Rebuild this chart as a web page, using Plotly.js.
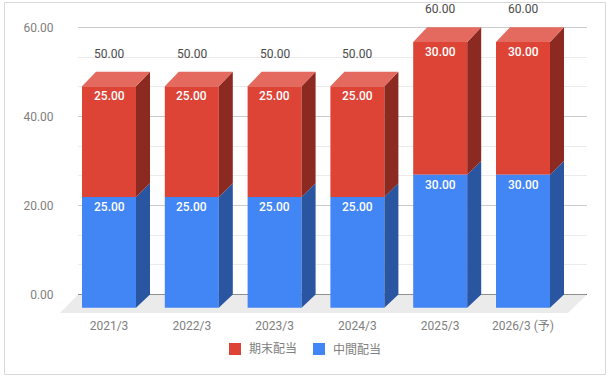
<!DOCTYPE html>
<html>
<head>
<meta charset="utf-8">
<script src="https://cdn.plot.ly/plotly-3.0.1.min.js"></script>
<style>html,body{margin:0;padding:0;background:#fff}#c{width:611px;height:378px}</style>
</head>
<body>
<div id="c"></div>
<script>
const categories = ['2021/3','2022/3','2023/3','2024/3','2025/3','2026/3 (予)'];
const interim = [25,25,25,25,30,30];
const yearEnd = [25,25,25,25,30,30];
const totals = [50,50,50,50,60,60];
const majorTicks = [0,20,40,60];
const minorTicks = [20/3,40/3,80/3,100/3,140/3,160/3];
const seriesNames = {end:'期末配当', mid:'中間配当'};

const W=611,H=378;
const plotTop=3, plotBottom=313, gridLeft=78, floorLeft=60, plotRight=587;
const pxPerUnit=4.453, zeroPx=294.5, frontZeroPx=307.7, frontPxPerUnit=4.428;
const pxPerCat=82.8, firstCatPx=109, barPx=54, depthPx=14;

const yLow=-(plotBottom-zeroPx)/pxPerUnit, yHigh=(zeroPx-plotTop)/pxPerUnit;
const xAt=p=>(p-firstCatPx)/pxPerCat;
const dx=depthPx/pxPerCat, bw=barPx/pxPerCat;
const k=frontPxPerUnit/pxPerUnit, d=(frontZeroPx-zeroPx)/pxPerUnit;
const front=v=>v*k-d;
const FONT="Roboto, 'Noto Sans CJK JP', sans-serif";
const RED='#dd4436',BLUE='#4285f4',RED_SIDE='#8c2a22',BLUE_SIDE='#2a55a0',RED_TOP='#e46a5f';
const AXIS_TEXT='#808080';

function poly(list){const xs=[],ys=[];list.forEach(p=>{p.forEach(q=>{xs.push(q[0]);ys.push(q[1]);});xs.push(p[0][0]);ys.push(p[0][1]);xs.push(null);ys.push(null);});return [xs,ys];}
const idx=categories.map((_,i)=>i);
const sideMid=idx.map(i=>{const r=i+bw/2;return [[r,front(0)],[r+dx,0],[r+dx,interim[i]],[r,front(interim[i])]];});
const sideEnd=idx.map(i=>{const r=i+bw/2,a=interim[i],b=a+yearEnd[i];return [[r,front(a)],[r+dx,a],[r+dx,b],[r,front(b)]];});
const topEnd=idx.map(i=>{const l=i-bw/2,r=i+bw/2,t=totals[i];return [[l,front(t)],[r,front(t)],[r+dx,t],[l+dx,t]];});
function face(list,color){const [x,y]=poly(list);return {type:'scatter',mode:'lines',x,y,xaxis:'x2',yaxis:'y2',fill:'toself',fillcolor:color,line:{width:0,color},hoverinfo:'skip',showlegend:false};}

const traces=[
 {type:'scatter',mode:'lines',x:[0],y:[0],xaxis:'x',yaxis:'y',line:{width:0},hoverinfo:'skip',showlegend:false},
 {type:'bar',name:seriesNames.end,x:idx,y:yearEnd.map(v=>v*k),base:idx.map(i=>front(interim[i])),width:bw,marker:{color:RED,line:{width:0}},xaxis:'x2',yaxis:'y2',hoverinfo:'skip',showlegend:false},
 {type:'bar',name:seriesNames.mid,x:idx,y:interim.map(v=>v*k),base:idx.map(()=>front(0)),width:bw,marker:{color:BLUE,line:{width:0}},xaxis:'x2',yaxis:'y2',hoverinfo:'skip',showlegend:false},
 face(sideMid,BLUE_SIDE),face(sideEnd,RED_SIDE),face(topEnd,RED_TOP)
];

const annotations=[];
function label(x,y,text,color,shift,weight){annotations.push({xref:'x2',yref:'y2',x,y,text,showarrow:false,yanchor:'middle',xanchor:'center',yshift:shift,font:{family:FONT,size:12,color,weight}});}
idx.forEach(i=>{
 label(i,front(totals[i]),yearEnd[i].toFixed(2),'#ffffff',-9.7,500);
 label(i,front(interim[i]),interim[i].toFixed(2),'#ffffff',-9.7,500);
 label(i,totals[i],totals[i].toFixed(2),'#4a4a4a',18,400);
});

// legend row
const legendRow=[{name:seriesNames.end,color:RED,px:229},{name:seriesNames.mid,color:BLUE,px:313}];
const legendShapes=legendRow.map(e=>({type:'rect',xref:'paper',yref:'paper',x0:e.px/W,x1:(e.px+12)/W,y0:1-355/H,y1:1-343/H,fillcolor:e.color,line:{width:0}}));
legendRow.forEach(e=>annotations.push({xref:'paper',yref:'paper',x:(e.px+20)/W,y:1-349/H,xanchor:'left',yanchor:'middle',showarrow:false,borderpad:0,borderwidth:0,text:e.name,font:{family:FONT,size:12,color:AXIS_TEXT}}));

const fx0=xAt(floorLeft),fx1=xAt(plotRight-19),bx0=xAt(gridLeft),bx1=xAt(plotRight);
const layout={
 width:W,height:H,autosize:false,
 paper_bgcolor:'#ffffff',plot_bgcolor:'rgba(0,0,0,0)',
 margin:{l:0,r:0,t:0,b:0,pad:0},
 barmode:'overlay',
 font:{family:FONT,size:12,color:AXIS_TEXT},
 showlegend:false,
 xaxis:{domain:[gridLeft/W,plotRight/W],range:[bx0,bx1],anchor:'y',visible:false,fixedrange:true},
 yaxis:{domain:[1-plotBottom/H,1-plotTop/H],range:[yLow,yHigh],anchor:'x',tickmode:'array',tickvals:majorTicks,ticktext:majorTicks.map(v=>v.toFixed(2)),
   showgrid:true,gridcolor:'#cccccc',gridwidth:1,zeroline:true,zerolinecolor:'#333333',zerolinewidth:1,showline:false,
   ticks:'outside',ticklen:21,tickwidth:1,tickcolor:'rgba(0,0,0,0)',tickfont:{family:FONT,size:12,color:AXIS_TEXT},
   minor:{tickmode:'array',tickvals:minorTicks,showgrid:true,gridcolor:'#ebebeb',gridwidth:1,ticks:''},fixedrange:true},
 xaxis2:{domain:[floorLeft/W,plotRight/W],range:[xAt(floorLeft),xAt(plotRight)],anchor:'y2',tickmode:'array',tickvals:idx,ticktext:categories,showgrid:false,zeroline:false,showline:false,ticks:'outside',ticklen:2,tickcolor:'rgba(0,0,0,0)',tickfont:{family:FONT,size:12,color:AXIS_TEXT},fixedrange:true},
 yaxis2:{domain:[1-plotBottom/H,1-plotTop/H],range:[yLow,yHigh],anchor:'x2',visible:false,fixedrange:true},
 shapes:[
  {type:'path',xref:'x2',yref:'y2',layer:'below',path:`M${bx0},0L${bx1},0L${fx1},${yLow}L${fx0},${yLow}Z`,fillcolor:'#ebebeb',line:{width:0}},
  {type:'rect',xref:'paper',yref:'paper',layer:'below',x0:4.5/W,x1:605.5/W,y0:1-374.5/H,y1:1-2.5/H,fillcolor:'rgba(0,0,0,0)',line:{color:'#d9d9d9',width:1}}
 ].concat(legendShapes),
 annotations
};
Plotly.newPlot('c',traces,layout,{displayModeBar:false,staticPlot:true});
</script>
</body>
</html>
